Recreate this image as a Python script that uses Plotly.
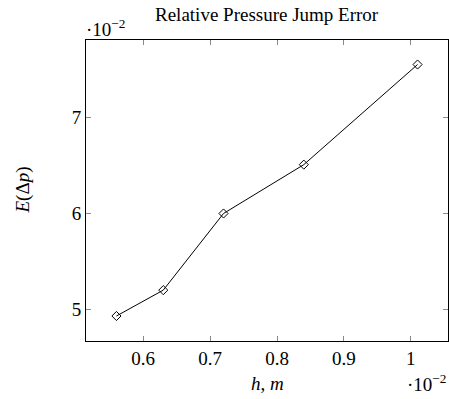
import plotly.graph_objects as go

# values shown in units of 1e-2 (as the axis multipliers say)
h_vals = [0.56, 0.63, 0.72, 0.84, 1.01]
err_vals = [4.93, 5.20, 6.00, 6.51, 7.555]
x_ticks = [0.6, 0.7, 0.8, 0.9, 1.0]
x_tick_labels = ['0.6', '0.7', '0.8', '0.9', '1']
y_ticks = [5, 6, 7]
y_tick_labels = ['5', '6', '7']

font = 'Liberation Serif'
fsize = 19

fig = go.Figure()
fig.add_trace(go.Scatter(
    x=h_vals, y=err_vals,
    mode='lines+markers',
    line=dict(color='black', width=1),
    marker=dict(symbol='diamond-open', size=7, color='black', line=dict(width=1)),
    showlegend=False,
))

axis_common = dict(
    showline=True, linecolor='black', linewidth=1, mirror='ticks',
    ticks='inside', ticklen=5, tickcolor='#888888', tickwidth=1,
    showgrid=False, zeroline=False,
    tickfont=dict(family=font, size=fsize, color='black'),
)

fig.update_xaxes(range=[0.5145, 1.0555], tickvals=x_ticks, ticktext=x_tick_labels, **axis_common)
fig.update_yaxes(range=[4.669, 7.811], tickvals=y_ticks, ticktext=y_tick_labels, **axis_common)

fig.update_layout(
    width=449, height=399,
    margin=dict(l=86, r=1, t=40, b=58),
    plot_bgcolor='white', paper_bgcolor='white',
    font=dict(family=font, size=fsize, color='black'),
    annotations=[
        dict(text='Relative Pressure Jump Error', xref='paper', yref='paper', x=0.5, y=1,
             yshift=26, showarrow=False, xanchor='center', yanchor='middle'),
        dict(text='·10<sup>−2</sup>', xref='paper', yref='paper', x=0, y=1, xshift=-2,
             yshift=12, showarrow=False, xanchor='left', yanchor='middle'),
        dict(text='·10<sup>−2</sup>', xref='paper', yref='paper', x=1, y=0,
             yshift=-42, showarrow=False, xanchor='right', yanchor='middle'),
        dict(text='<i>h</i>, <i>m</i>', xref='paper', yref='paper', x=0.5, y=0,
             yshift=-42, showarrow=False, xanchor='center', yanchor='middle'),
        dict(text='<i>E</i>(Δ<i>p</i>)', xref='paper', yref='paper', x=0, y=0.5,
             xshift=-64, showarrow=False, textangle=-90, xanchor='center', yanchor='middle'),
    ],
)

# drop the default body margin so the figure fills the window exactly
fig.write_html('out.html', config={'displayModeBar': False},
               post_script="document.body.style.margin='0';document.body.style.overflow='hidden';")
